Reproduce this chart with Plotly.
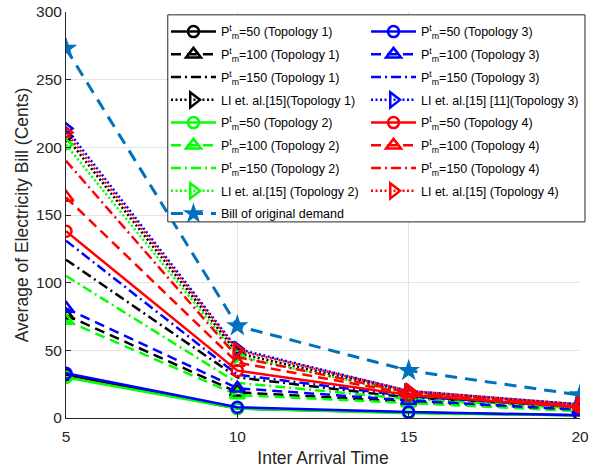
import plotly.graph_objects as go

x_vals = [5, 10, 15, 20]

# Topology 1 (black)
t1_p50 = [32, 7, 4, 2]
t1_p100 = [76, 19, 12, 6]
t1_p150 = [117, 30, 15, 8]
t1_li = [208, 48, 19, 10]
# Topology 2 (green)
t2_p50 = [30, 7, 3.5, 2]
t2_p100 = [72, 17, 11, 5]
t2_p150 = [105, 26, 14, 7]
t2_li = [202, 46, 18, 9]
# Topology 3 (blue)
t3_p50 = [33, 8, 4.5, 2]
t3_p100 = [81, 22, 13, 6]
t3_p150 = [131, 32, 16, 8]
t3_li = [214, 51, 20, 10]
# Topology 4 (red)
t4_p50 = [138, 35, 17, 8]
t4_p100 = [163, 41, 18, 9]
t4_p150 = [190, 45, 19, 9]
t4_li = [211, 50, 20, 10]
# Original demand
orig = [273, 68, 35, 17]

x_ticks = [5, 10, 15, 20]
y_ticks = [0, 50, 100, 150, 200, 250, 300]

P = "P<sup>t</sup><sub>m</sub>"
names = {
    "t1": [f"{P}=50 (Topology 1)", f"{P}=100 (Topology 1)", f"{P}=150 (Topology 1)", "LI et. al.[15](Topology 1)"],
    "t2": [f"{P}=50 (Topology 2)", f"{P}=100 (Topology 2)", f"{P}=150 (Topology 2)", "LI et. al.[15] (Topology 2)"],
    "t3": [f"{P}=50 (Topology 3)", f"{P}=100 (Topology 3)", f"{P}=150 (Topology 3)", "LI et. al.[15] [11](Topology 3)"],
    "t4": [f"{P}=50 (Topology 4)", f"{P}=100 (Topology 4)", f"{P}=150 (Topology 4)", "LI et. al.[15] (Topology 4)"],
}
series = {
    "t1": [t1_p50, t1_p100, t1_p150, t1_li],
    "t2": [t2_p50, t2_p100, t2_p150, t2_li],
    "t3": [t3_p50, t3_p100, t3_p150, t3_li],
    "t4": [t4_p50, t4_p100, t4_p150, t4_li],
}
colors = {"t1": "#000000", "t2": "#00FF00", "t3": "#0000FF", "t4": "#FF0000"}
dashes = ["solid", "10px,6px", "10px,4px,2px,4px", "2px,2.5px"]
symbols = ["circle-open", "triangle-up-open", None, "triangle-right-open"]
sizes = [11, 13, 0, 13]

fig = go.Figure()

def add_topo(key, legend):
    for i in range(4):
        sym = symbols[i]
        mode = "lines+markers" if sym else "lines"
        fig.add_trace(go.Scatter(
            x=x_vals, y=series[key][i], name=names[key][i], mode=mode,
            line=dict(color=colors[key], width=2.5, dash=dashes[i]),
            marker=dict(symbol=sym or "circle", size=sizes[i], color=colors[key],
                        line=dict(color=colors[key], width=2.5)),
            legend=legend, legendgroup=f"{key}_{i}",
        ))

add_topo("t1", "legend")
add_topo("t2", "legend")
fig.add_trace(go.Scatter(
    x=x_vals, y=orig, name="Bill of original demand", mode="lines+markers",
    line=dict(color="#0072BD", width=3, dash="12px,8px"),
    marker=dict(symbol="star", size=17, color="#0072BD", line=dict(width=0)),
    legend="legend", legendgroup="orig",
))
add_topo("t3", "legend2")
add_topo("t4", "legend2")

font_family = "Liberation Sans, Arial, Helvetica, sans-serif"
leg_common = dict(
    bgcolor="rgba(255,255,255,0)", borderwidth=0,
    font=dict(family=font_family, size=12.5, color="#000000"),
    itemwidth=45, tracegroupgap=3.5, traceorder="grouped",
    yanchor="top", xanchor="left", xref="paper", yref="paper",
)

fig.update_layout(
    width=592, height=468,
    margin=dict(l=66, r=12, t=12, b=50, autoexpand=False),
    paper_bgcolor="white", plot_bgcolor="white",
    font=dict(family=font_family, color="#262626"),
    showlegend=True,
    legend=dict(x=0.1945, y=0.9877, **leg_common),
    legend2=dict(x=0.5837, y=0.9877, **leg_common),
    xaxis=dict(
        range=[5, 20], tickvals=x_ticks, ticktext=[str(v) for v in x_ticks],
        showgrid=True, gridcolor="#e3e3e3", gridwidth=1,
        showline=True, linecolor="#262626", linewidth=1,
        ticks="inside", ticklen=5, tickcolor="#262626",
        tickfont=dict(size=15.5, color="#262626"), ticklabelstandoff=4,
        title=dict(text="Inter Arrival Time", font=dict(size=17.5, color="#262626"), standoff=9),
        zeroline=False,
    ),
    yaxis=dict(
        range=[0, 300], tickvals=y_ticks, ticktext=[str(v) for v in y_ticks],
        showgrid=True, gridcolor="#e3e3e3", gridwidth=1,
        showline=True, linecolor="#262626", linewidth=1,
        ticks="inside", ticklen=5, tickcolor="#262626",
        tickfont=dict(size=15.5, color="#262626"),
        title=dict(text="Average of Electricity Bill (Cents)", font=dict(size=17.5, color="#262626"), standoff=2),
        zeroline=False,
    ),
    shapes=[dict(
        type="rect", xref="paper", yref="paper",
        x0=0.198, x1=1.0097, y0=0.483, y1=0.993,
        line=dict(color="#262626", width=1), fillcolor="white", layer="above",
    )],
)

fig.write_html("out.html", config={"displayModeBar": False},
               post_script="document.body.style.margin='0px';")
